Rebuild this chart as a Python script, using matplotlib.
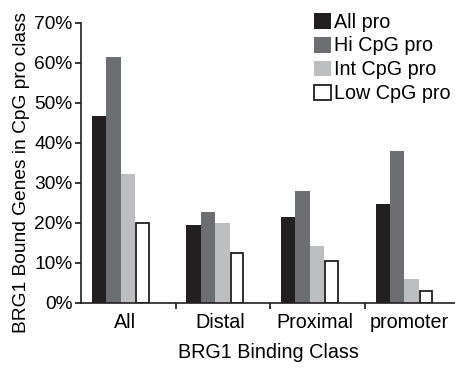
import matplotlib
matplotlib.use("Agg")
import matplotlib.pyplot as plt
import numpy as np
from matplotlib.ticker import FuncFormatter

plt.rcParams['font.family'] = ['Liberation Sans', 'DejaVu Sans']

# --- data ------------------------------------------------------------------
categories = ["All", "Distal", "Proximal", "promoter"]
series = ["All pro", "Hi CpG pro", "Int CpG pro", "Low CpG pro"]
all_pro = [46.8, 19.4, 21.4, 24.7]
hi_cpg = [61.5, 22.7, 27.9, 37.9]
int_cpg = [32.3, 20.1, 14.2, 6.0]
low_cpg = [20.1, 12.4, 10.5, 3.1]

colors = ["#231f20", "#6d6e71", "#bcbec0", "white"]
FS = 14.2

fig = plt.figure(figsize=(4.56, 3.69), dpi=100)
ax = fig.add_axes([0.1776, 0.179, 0.8224, 0.759])

x = np.arange(len(categories))
width = 0.153
for i, (vals, col) in enumerate(zip([all_pro, hi_cpg, int_cpg, low_cpg], colors)):
    if col == "white":
        ax.bar(x + (i - 1.5) * width, vals, width=width * 0.85,
               color=col, edgecolor="#231f20", linewidth=1.3, label=series[i])
    else:
        ax.bar(x + (i - 1.5) * width, vals, width=width,
               color=col, linewidth=0, label=series[i])

ax.set_xlim(-0.42, 3.545)
ax.set_ylim(0, 70)
ax.set_yticks(np.arange(0, 71, 10))
ax.yaxis.set_major_formatter(FuncFormatter(lambda v, p: f"{int(v)}%"))
ax.set_xticks(x[:-1] + 0.58)
ax.set_xticklabels([])
ax.set_xticks(x + 0.05, minor=True)
ax.set_xticklabels(categories, minor=True)
ax.tick_params(axis="x", which="minor", length=0, pad=7, labelsize=FS)
ax.tick_params(axis="x", which="major", length=4, width=1.1, direction="out")
ax.tick_params(axis="y", length=4, width=1.1, direction="out", labelsize=FS - 0.4, pad=2)

for s in ["top", "right"]:
    ax.spines[s].set_visible(False)
for s in ["left", "bottom"]:
    ax.spines[s].set_linewidth(1.2)
    ax.spines[s].set_color("#231f20")

ax.set_ylabel("BRG1 Bound Genes in CpG pro class", fontsize=13.8)
ax.yaxis.set_label_coords(-0.135, 0.464)
ax.set_xlabel("BRG1 Binding Class", fontsize=FS, labelpad=8)

leg = ax.legend(loc="upper left", bbox_to_anchor=(0.6, 1.065), frameon=False,
                fontsize=FS, handlelength=0.85, handleheight=0.85,
                handletextpad=0.15, labelspacing=0.25, borderaxespad=0)

fig.savefig("out.png", dpi=100)
